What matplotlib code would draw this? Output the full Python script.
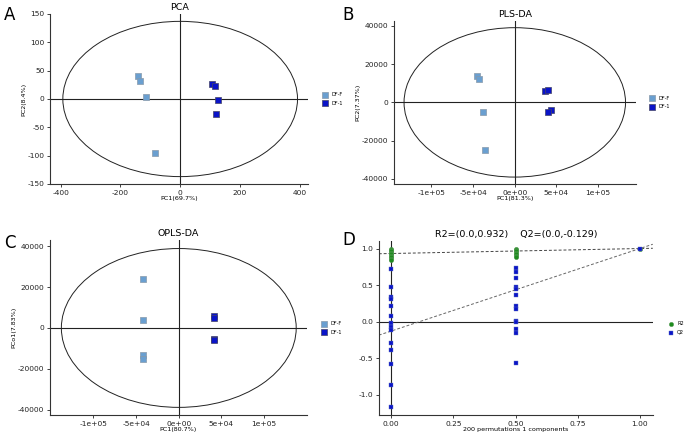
import matplotlib
matplotlib.use("Agg")
import matplotlib.pyplot as plt
from matplotlib.patches import Ellipse
from matplotlib.ticker import FuncFormatter

plt.rcParams['font.family'] = ['DejaVu Sans']
plt.rcParams['axes.unicode_minus'] = False

groups = ["DF-F", "DF-1"]
group_colors = ["#6A9FD0", "#0A14C8"]

# Panel A: PCA scores
pca_x_f = [-140, -135, -115, -85]
pca_y_f = [41, 31, 4, -96]
pca_x_1 = [108, 118, 126, 120]
pca_y_1 = [26, 23, -2, -26]
pca_ell = (393, 137)

# Panel B: PLS-DA scores
pls_x_f = [-44800, -42800, -38000, -35200]
pls_y_f = [13900, 12300, -4900, -25000]
pls_x_1 = [36800, 40000, 43200, 40400]
pls_y_1 = [6200, 6600, -4000, -5200]
pls_ell = (132800, 39000)

# Panel C: OPLS-DA scores
opls_x_f = [-42000, -41400, -41400, -41400]
opls_y_f = [24000, 3900, -13300, -15000]
opls_x_1 = [41000, 41200, 41000, 41200]
opls_y_1 = [6000, 4900, -5400, -5900]
opls_ell = (137500, 38800)

# Panel D: permutation test
r2_x = [0]*9 + [0.5]*7 + [1.0]
r2_y = [1.0, 0.98, 0.96, 0.94, 0.92, 0.90, 0.88, 0.86, 0.84,
        1.0, 0.98, 0.96, 0.94, 0.92, 0.90, 0.88,
        1.0]
q2_x0 = [0.72, 0.47, 0.34, 0.31, 0.22, 0.08, -0.02, -0.07, -0.11,
         -0.29, -0.39, -0.58, -0.87, -1.17]
q2_x05 = [0.73, 0.68, 0.59, 0.47, 0.44, 0.37, 0.21, 0.17, 0.01,
          -0.01, -0.10, -0.16, -0.57]
q2_x1 = [1.0]
r2_intercept, q2_intercept = 0.932, -0.129

fig = plt.figure(figsize=(6.85, 4.37), dpi=100)

tick_fs = 5.4
lab_fs = 4.6
title_fs = 6.8


def style(ax):
    for s in ['top', 'right']:
        ax.spines[s].set_visible(False)
    for s in ['left', 'bottom']:
        ax.spines[s].set_color('#333333')
        ax.spines[s].set_linewidth(0.8)
    ax.tick_params(labelsize=tick_fs, length=2.5, width=0.6, pad=1.5, colors='#222222')


def score_panel(ax, xf, yf, x1, y1, ell, title, xlabel, ylabel, xlim, ylim):
    style(ax)
    ax.axhline(0, color='#222222', lw=0.8, zorder=1)
    ax.axvline(0, color='#222222', lw=0.8, zorder=1)
    ax.add_patch(Ellipse((0, 0), 2*ell[0], 2*ell[1], fill=False,
                         edgecolor='#222222', lw=0.7, zorder=1))
    ax.scatter(xf, yf, marker='s', s=18, c=group_colors[0], edgecolors='#8899AA',
               linewidths=0.5, label=groups[0], zorder=3)
    ax.scatter(x1, y1, marker='s', s=18, c=group_colors[1], edgecolors='#444466',
               linewidths=0.5, label=groups[1], zorder=3)
    ax.set_xlim(*xlim)
    ax.set_ylim(*ylim)
    ax.set_title(title, fontsize=title_fs, pad=3)
    ax.set_xlabel(xlabel, fontsize=lab_fs, labelpad=0.5)
    ax.set_ylabel(ylabel, fontsize=lab_fs, labelpad=1)
    ax.legend(loc='center left', bbox_to_anchor=(1.03, 0.5), frameon=False,
              fontsize=3.6, handletextpad=0.3, markerscale=0.9, labelspacing=0.7)


sci = FuncFormatter(lambda v, p: '{:.0e}'.format(v))

# A
axA = fig.add_axes([0.073, 0.579, 0.377, 0.389])
score_panel(axA, pca_x_f, pca_y_f, pca_x_1, pca_y_1, pca_ell, 'PCA',
            'PC1(69.7%)', 'PC2(8.4%)', (-436, 429), (-150, 150))
axA.set_xticks([-400, -200, 0, 200, 400])
axA.set_yticks([-150, -100, -50, 0, 50, 100, 150])

# B
axB = fig.add_axes([0.575, 0.579, 0.353, 0.373])
score_panel(axB, pls_x_f, pls_y_f, pls_x_1, pls_y_1, pls_ell, 'PLS-DA',
            'PC1(81.3%)', 'PC2(7.37%)', (-145000, 145000), (-42600, 42500))
axB.set_xticks([-100000, -50000, 0, 50000, 100000])
axB.xaxis.set_major_formatter(sci)
axB.set_yticks([-40000, -20000, 0, 20000, 40000])

# C
axC = fig.add_axes([0.073, 0.050, 0.375, 0.400])
score_panel(axC, opls_x_f, opls_y_f, opls_x_1, opls_y_1, opls_ell, 'OPLS-DA',
            'PC1(80.7%)', 'PCo1(7.83%)', (-150800, 150000), (-42600, 42800))
axC.set_xticks([-100000, -50000, 0, 50000, 100000])
axC.xaxis.set_major_formatter(sci)
axC.set_yticks([-40000, -20000, 0, 20000, 40000])

# D
axD = fig.add_axes([0.553, 0.050, 0.400, 0.398])
style(axD)
axD.axhline(0, color='#222222', lw=0.8, zorder=1)
axD.axvline(0, color='#222222', lw=0.8, zorder=1)
xl = (-0.05, 1.052)
axD.plot(xl, [r2_intercept + (1 - r2_intercept)*x for x in xl],
         color='#444444', lw=0.7, dashes=(3, 2), zorder=2)
axD.plot(xl, [q2_intercept + (1 - q2_intercept)*x for x in xl],
         color='#666666', lw=0.7, dashes=(3, 2), zorder=2)
axD.scatter(r2_x, r2_y, marker='o', s=10, c='#1E8C1E', edgecolors='#5A9A5A',
            linewidths=0.3, label='R2', zorder=3)
q2_x = [0]*len(q2_x0) + [0.5]*len(q2_x05) + [1.0]*len(q2_x1)
q2_y = q2_x0 + q2_x05 + q2_x1
axD.scatter(q2_x, q2_y, marker='s', s=8, c='#0A14C8', edgecolors='#6070C0',
            linewidths=0.3, label='Q2', zorder=4)
axD.set_xlim(*xl)
axD.set_ylim(-1.28, 1.10)
axD.set_xticks([0, 0.25, 0.5, 0.75, 1.0])
axD.xaxis.set_major_formatter(FuncFormatter(lambda v, p: '%.2f' % v))
axD.set_yticks([-1.0, -0.5, 0.0, 0.5, 1.0])
axD.yaxis.set_major_formatter(FuncFormatter(lambda v, p: '%.1f' % v))
axD.set_title('R2=(0.0,0.932)    Q2=(0.0,-0.129)', fontsize=title_fs, pad=3)
axD.set_xlabel('200 permutations 1 components', fontsize=lab_fs, labelpad=0.5)
axD.legend(loc='center left', bbox_to_anchor=(1.03, 0.5), frameon=False,
           fontsize=3.6, handletextpad=0.3, labelspacing=0.7)

# Panel letters
for txt, x, y in [('A', 0.006, 0.965), ('B', 0.500, 0.965), ('C', 0.006, 0.445), ('D', 0.500, 0.45)]:
    fig.text(x, y, txt, fontsize=12, ha='left', va='center')

fig.savefig('out.png', dpi=100)
